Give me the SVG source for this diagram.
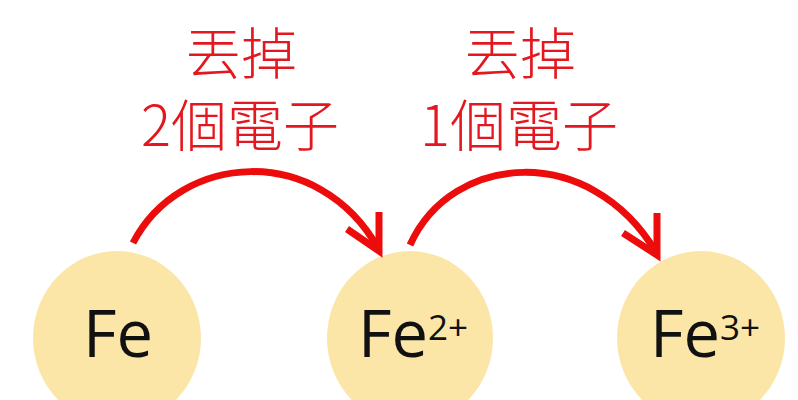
<svg xmlns="http://www.w3.org/2000/svg" width="798" height="400" viewBox="0 0 798 400">
<style>
.ion{fill:#fbe6a8}
.sym{font-family:"Open Sans","Noto Sans",sans-serif;font-size:65px;fill:#111}
.sup{font-size:35px}
.lbl{font-family:"Noto Sans CJK TC","Noto Sans CJK SC",sans-serif;font-size:56px;font-weight:300;fill:#e3171f;text-anchor:middle}
.arc{fill:none;stroke:#ec0c0c;stroke-width:7;stroke-linecap:butt;stroke-linejoin:miter}
</style>
<rect width="798" height="400" fill="#fff"/>
<g id="node-fe">
<ellipse class="ion" cx="117" cy="338" rx="84" ry="87"/>
<text class="sym" x="83" y="357">Fe</text>
</g>
<g id="node-fe2">
<ellipse class="ion" cx="410" cy="338" rx="83" ry="87"/>
<text class="sym" x="358" y="357">Fe<tspan class="sup" y="340">2+</tspan></text>
</g>
<g id="node-fe3">
<ellipse class="ion" cx="701" cy="338" rx="84" ry="87"/>
<text class="sym" x="650" y="357">Fe<tspan class="sup" y="340">3+</tspan></text>
</g>
<g id="connectors">
<path class="arc" d="M133,243 C180,152 318,142 378,248"/>
<polyline class="arc" points="347,229 379,251 379,212"/>
<path class="arc" d="M410,245 C452,152 590,142 656,252"/>
<polyline class="arc" points="623,233 657,255 657,213"/>
</g>
<g id="label-1">
<text class="lbl"><tspan x="241" y="74">丟掉</tspan><tspan x="240" y="146">2個電子</tspan></text>
</g>
<g id="label-2">
<text class="lbl"><tspan x="520" y="74">丟掉</tspan><tspan x="519" y="146">1個電子</tspan></text>
</g>
</svg>
